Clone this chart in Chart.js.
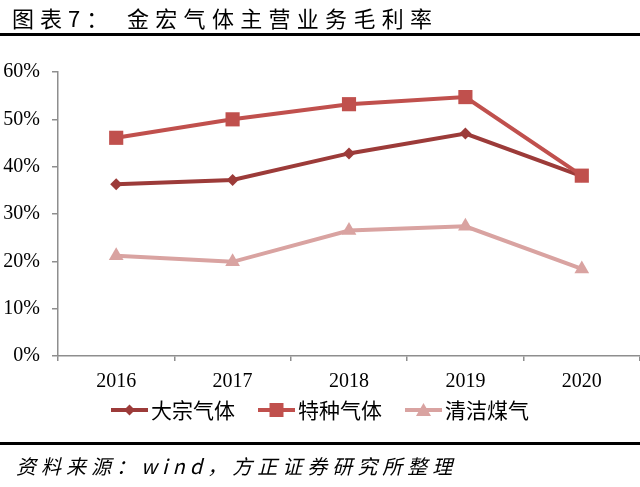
<!DOCTYPE html>
<html>
<head>
<meta charset="utf-8">
<script src="https://cdn.jsdelivr.net/npm/chart.js@4.4.0/dist/chart.umd.min.js"></script>
<style>
  html, body { margin:0; padding:0; background:#fff; }
  #wrap { position:relative; width:640px; height:487px; overflow:hidden; }
  #c { position:absolute; left:0; top:0; }
  .t { position:absolute; font-family:"Noto Sans CJK SC"; color:#000; white-space:nowrap; }
  .rule { position:absolute; left:0; width:640px; height:3px; background:#000; }
</style>
</head>
<body>
<div id="wrap">
  <canvas id="c" width="640" height="487"></canvas>
  <div class="t" style="left:12px; top:3px; font-size:22px; line-height:28px; letter-spacing:6px;">图表7：</div>
  <div class="t" style="left:127px; top:3px; font-size:22px; line-height:28px; letter-spacing:6.3px;">金宏气体主营业务毛利率</div>
  <div class="rule" style="top:33px;"></div>
  <div class="rule" style="top:442px;"></div>
  <div class="t" style="left:16px; top:453px; font-size:20px; line-height:26px; letter-spacing:5px; font-style:italic;">资料来源：wind，方正证券研究所整理</div>
</div>
<script>
const categories = ['2016', '2017', '2018', '2019', '2020'];
const bulkGas = [36.3, 37.2, 42.8, 47.0, 38.0];
const specialtyGas = [46.1, 50.0, 53.2, 54.7, 38.1];
const cleanCoalGas = [21.2, 19.9, 26.5, 27.4, 18.4];
const seriesNames = ['大宗气体', '特种气体', '清洁煤气'];
const yTicks = [0, 10, 20, 30, 40, 50, 60];

const colors = ['#9C3B39', '#C0504D', '#D9A3A1'];

// legend icon: 55px wide image, visible line+marker occupies x 18..55
function legendIcon(color, style) {
  const cv = document.createElement('canvas');
  cv.width = 55; cv.height = 20;
  const g = cv.getContext('2d');
  const x0 = 18, cx = x0 + 18.5;
  g.strokeStyle = color; g.lineWidth = 4;
  g.beginPath(); g.moveTo(x0, 10); g.lineTo(x0 + 37, 10); g.stroke();
  g.fillStyle = color;
  g.beginPath();
  if (style === 'diamond') {
    g.moveTo(cx, 4.5); g.lineTo(cx + 5.5, 10); g.lineTo(cx, 15.5); g.lineTo(cx - 5.5, 10); g.closePath();
  } else if (style === 'square') {
    g.rect(cx - 7, 3, 14, 14);
  } else {
    g.moveTo(cx, 3); g.lineTo(cx + 7.5, 16); g.lineTo(cx - 7.5, 16); g.closePath();
  }
  g.fill();
  return cv;
}
const icons = [legendIcon(colors[0], 'diamond'), legendIcon(colors[1], 'square'), legendIcon(colors[2], 'triangle')];

const chart = new Chart(document.getElementById('c'), {
  type: 'line',
  data: {
    labels: categories,
    datasets: [
      { label: seriesNames[0], data: bulkGas, borderColor: colors[0], backgroundColor: colors[0],
        borderWidth: 4, pointStyle: 'rectRot', pointRadius: 6, pointBorderWidth: 0, order: 2, tension: 0 },
      { label: seriesNames[1], data: specialtyGas, borderColor: colors[1], backgroundColor: colors[1],
        borderWidth: 4, pointStyle: 'rect', pointRadius: 10, pointBorderWidth: 0, order: 1, tension: 0 },
      { label: seriesNames[2], data: cleanCoalGas, borderColor: colors[2], backgroundColor: colors[2],
        borderWidth: 4, pointStyle: 'triangle', pointRadius: 8.5, pointBorderWidth: 0, order: 3, tension: 0 }
    ]
  },
  options: {
    responsive: false,
    animation: false,
    devicePixelRatio: 1,
    layout: { autoPadding: false, padding: { top: 72, left: 0, right: 0, bottom: 56.5 } },
    plugins: {
      title: { display: false },
      tooltip: { enabled: false },
      legend: {
        position: 'bottom',
        labels: {
          usePointStyle: true,
          pointStyleWidth: 40,
          padding: 2,
          color: '#000',
          font: { family: 'Noto Sans CJK SC', size: 21 },
          sort: (a, b) => a.datasetIndex - b.datasetIndex,
          generateLabels: (ch) => {
            const items = Chart.defaults.plugins.legend.labels.generateLabels(ch);
            items.forEach(it => { it.pointStyle = icons[it.datasetIndex]; it.text = it.text + '\u2002'; });
            return items;
          }
        }
      }
    },
    scales: {
      x: {
        offset: true,
        grid: { display: true, offset: true, drawOnChartArea: false, drawTicks: true, tickLength: 5, color: '#8E8E8E', lineWidth: 1.5 },
        border: { display: true, color: '#8E8E8E', width: 1.5 },
        ticks: { color: '#000', font: { family: 'Liberation Serif', size: 20 }, padding: 9, maxRotation: 0, autoSkip: false },
        afterFit: (s) => { s.height = 41.5; s.paddingLeft = 0; s.paddingRight = 0; }
      },
      y: {
        min: 0, max: 60,
        afterBuildTicks: (s) => { s.ticks = yTicks.map(v => ({ value: v })); },
        grid: { display: true, drawOnChartArea: false, drawTicks: true, tickLength: 6, color: '#8E8E8E', lineWidth: 1.5 },
        border: { display: true, color: '#8E8E8E', width: 1.5 },
        ticks: { color: '#000', font: { family: 'Liberation Serif', size: 20 }, padding: 12, callback: (v) => v + '%' },
        afterFit: (s) => { s.width = 58; }
      }
    }
  }
});
</script>
</body>
</html>
